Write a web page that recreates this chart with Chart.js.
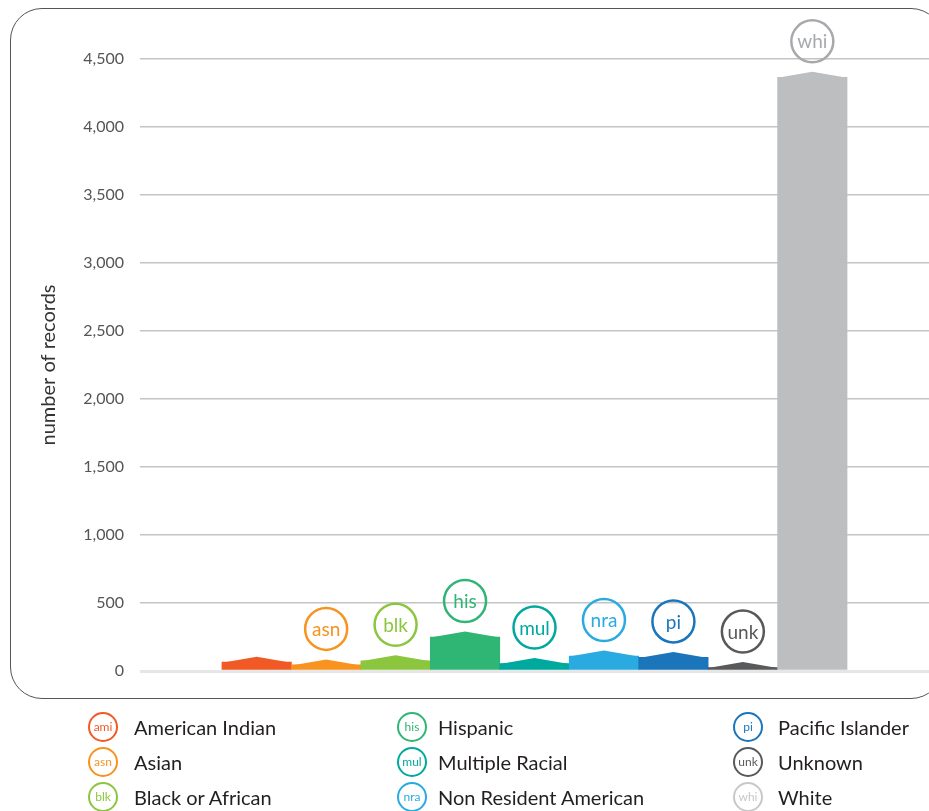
<!DOCTYPE html>
<html>
<head>
<meta charset="utf-8">
<script src="https://cdn.jsdelivr.net/npm/chart.js@4"></script>
<style>
html,body{margin:0;padding:0;background:#fff;}
body{width:929px;height:811px;position:relative;overflow:hidden;font-family:Lato,"Open Sans",sans-serif;}
#frame{position:absolute;left:10px;top:8px;width:933px;height:691px;box-sizing:border-box;border:1.5px solid #555;border-radius:32px;}
#chart{position:absolute;left:0;top:0;}
#legend{position:absolute;left:0;top:0;width:929px;height:811px;pointer-events:none;}
.badge{position:absolute;width:30px;height:30px;box-sizing:border-box;border:2px solid;border-radius:50%;display:flex;align-items:center;justify-content:center;font-size:12px;line-height:1;}
.name{position:absolute;height:30px;display:flex;align-items:center;font-size:20px;color:#231f20;white-space:nowrap;}
</style>
</head>
<body>
<div id="frame"></div>
<canvas id="chart" width="929" height="700"></canvas>
<div id="legend"></div>
<script>
// ---- data ----
const categories = ['ami','asn','blk','his','mul','nra','pi','unk','whi'];
const categoryNames = ['American Indian','Asian','Black or African','Hispanic','Multiple Racial','Non Resident American','Pacific Islander','Unknown','White'];
const records = [65, 45, 75, 250, 55, 110, 100, 25, 4365];
const yTicks = [0, 500, 1000, 1500, 2000, 2500, 3000, 3500, 4000, 4500];
const badgeAboveBar = [false, true, true, true, true, true, true, true, true];

// ---- styles ----
const barColors = ['#f15a24','#f7931e','#8cc63f','#2fb574','#00a99d','#29abe2','#1b75bb','#58595b','#bcbec0'];
const badgeColors = ['#f15a24','#f7931e','#8cc63f','#2fb574','#00a99d','#29abe2','#1b75bb','#58595b','#a7a9ac'];
const legendBadgeColors = ['#f15a24','#f7931e','#8cc63f','#2fb574','#00a99d','#29abe2','#1b75bb','#58595b','#c8c8c8'];

const capPlugin = {
  id: 'caps',
  afterDatasetsDraw(chart) {
    const meta = chart.getDatasetMeta(0);
    const c = chart.ctx;
    meta.data.forEach((bar, i) => {
      const p = bar.getProps(['x','y','width'], true);
      c.save();
      c.fillStyle = barColors[i];
      c.beginPath();
      c.moveTo(p.x - p.width/2, p.y + 0.5);
      c.lineTo(p.x, p.y - 5.5);
      c.lineTo(p.x + p.width/2, p.y + 0.5);
      c.closePath();
      c.fill();
      if (badgeAboveBar[i]) {
        const cy = p.y - 36;
        c.beginPath();
        c.arc(p.x, cy, 21, 0, Math.PI*2);
        c.lineWidth = 2.5;
        c.strokeStyle = badgeColors[i];
        c.stroke();
        c.fillStyle = badgeColors[i];
        c.font = '19px Lato';
        c.textAlign = 'center';
        c.textBaseline = 'middle';
        c.fillText(categories[i], p.x, cy + 1);
      }
      c.restore();
    });
  }
};

new Chart(document.getElementById('chart'), {
  type: 'bar',
  data: {
    datasets: [{
      data: records.map((v, i) => ({x: i, y: v})),
      backgroundColor: barColors,
      borderWidth: 0,
      barPercentage: 1,
      categoryPercentage: 1
    }]
  },
  options: {
    responsive: false,
    animation: false,
    layout: {padding: {left: 37, top: 59, right: 0, bottom: 29}},
    plugins: {legend: {display: false}, tooltip: {enabled: false}},
    scales: {
      x: {
        type: 'linear', min: -1.68, max: 9.68, offset: false, display: false,
        ticks: {stepSize: 1, includeBounds: false},
        grid: {display: false}
      },
      y: {
        min: 0, max: 4500,
        afterBuildTicks: s => { s.ticks = yTicks.map(v => ({value: v})); },
        afterFit: s => { s.width = 103; },
        ticks: {padding: 16, color: '#555', font: {family: 'Lato', size: 16}},
        grid: {
          drawTicks: false,
          color: ctx => ctx.tick && ctx.tick.value === 0 ? '#e6e6e6' : '#c4c4c4',
          lineWidth: ctx => ctx.tick && ctx.tick.value === 0 ? 3 : 1.5
        },
        border: {display: false},
        title: {display: true, text: 'number of records', color: '#333', font: {family: 'Lato', size: 20}, padding: {top: 0, bottom: 0}}
      }
    }
  },
  plugins: [capPlugin]
});

// ---- legend ----
const legend = document.getElementById('legend');
const colBadgeX = [103, 412, 748];
const colTextX = [134, 438, 778];
const rowY = [727, 762, 797];
categories.forEach((code, i) => {
  const col = Math.floor(i / 3), row = i % 3;
  const b = document.createElement('div');
  b.className = 'badge';
  b.style.left = (colBadgeX[col] - 15) + 'px';
  b.style.top = (rowY[row] - 15) + 'px';
  b.style.borderColor = legendBadgeColors[i];
  b.style.color = legendBadgeColors[i];
  b.textContent = code;
  legend.appendChild(b);
  const t = document.createElement('div');
  t.className = 'name';
  t.style.left = colTextX[col] + 'px';
  t.style.top = (rowY[row] - 15) + 'px';
  t.textContent = categoryNames[i];
  legend.appendChild(t);
});
</script>
</body>
</html>
